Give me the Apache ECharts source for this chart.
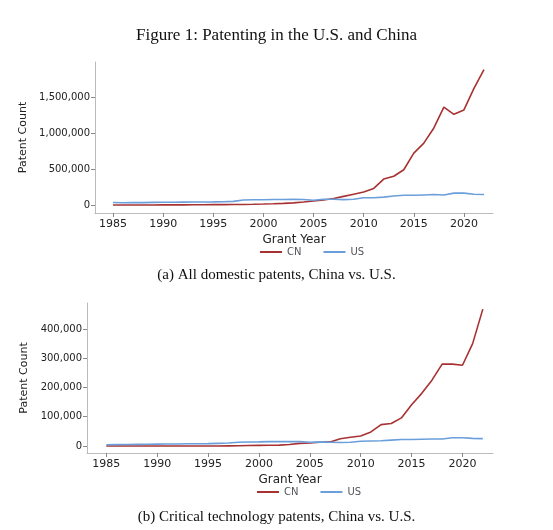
<!DOCTYPE html><html><head><meta charset="utf-8"><script src="https://cdn.jsdelivr.net/npm/echarts@6/dist/echarts.min.js"></script>
<style>body{margin:0;background:#fff}#c{width:553px;height:530px}</style></head><body><div id="c"></div><script>
const years=[];for(let y=1985;y<=2022;y++)years.push(y);
const allCN=[0,0,0,0,1000,1500,2000,2500,3000,4000,5000,6000,7000,8000,10000,13000,17000,22000,30000,42000,55000,70000,90000,120000,150000,180000,230000,360000,400000,490000,720000,860000,1070000,1360000,1260000,1320000,1620000,1880000];
const allUS=[35000,32000,33000,33000,36000,38000,39000,40000,41000,42000,43000,45000,50000,70000,72000,74000,76000,77000,78000,76000,65000,80000,80000,75000,80000,100000,100000,110000,125000,135000,135000,140000,145000,140000,165000,165000,150000,145000];
const crCN=[0,0,0,0,0,0,0,0,0,0,0,0,500,1000,1500,2000,2500,3000,5000,9000,10000,13000,14000,25000,30000,34000,48000,73000,77000,96000,141000,180000,225000,280000,280000,276000,350000,468000];
const crUS=[4000,4500,5000,5500,6000,6500,7000,7000,7500,7500,8000,9000,10000,13000,13500,14000,15000,15000,15000,15000,13000,14000,13000,12000,13000,16000,17000,18000,20000,22000,22000,23000,24000,24000,28000,28000,26000,25000];
const xTicks=[1985,1990,1995,2000,2005,2010,2015,2020];
const yTicksA=[0,500000,1000000,1500000];
const yTicksB=[0,100000,200000,300000,400000];
const CN='#a83232',US='#6a9fdc';
const pair=(a)=>years.map((y,i)=>[y,a[i]]);
const fmt=v=>v.toLocaleString('en-US');
function xa(gi,min,max){return{type:'value',gridIndex:gi,min,max,name:'Grant Year',nameLocation:'middle',nameGap:21,nameTextStyle:{fontSize:12,color:'#222',fontFamily:'DejaVu Sans'},
 axisLine:{onZero:false,lineStyle:{color:'#bbb'}},axisTick:{show:true,length:4,customValues:xTicks,lineStyle:{color:'#888'}},splitLine:{show:false},
 axisLabel:{customValues:xTicks,margin:6,fontSize:11,color:'#222',fontFamily:'DejaVu Sans',formatter:v=>String(v)}};}
function ya(gi,min,max,ticks){return{type:'value',gridIndex:gi,min,max,name:'Patent Count',nameLocation:'middle',nameGap:gi?45:53,nameTextStyle:{fontSize:11,color:'#222',fontFamily:'DejaVu Sans'},
 axisLine:{show:true,onZero:false,lineStyle:{color:'#bbb'}},axisTick:{show:true,length:4,customValues:ticks,lineStyle:{color:'#888'}},splitLine:{show:false},
 axisLabel:{customValues:ticks,margin:5,fontSize:10,color:'#222',fontFamily:'DejaVu Sans',formatter:fmt}};}
const ls=(c)=>({color:c,width:1.6});
const opt={animation:false,
 title:[{text:'Figure 1: Patenting in the U.S. and China',left:'center',top:22,textStyle:{fontFamily:'Liberation Serif',fontSize:17,fontWeight:'normal',color:'#111'}},
  {text:'(a) All domestic patents, China vs. U.S.',left:'center',top:263,textStyle:{fontFamily:'Liberation Serif',fontSize:15,fontWeight:'normal',color:'#111'}},
  {text:'(b) Critical technology patents, China vs. U.S.',left:'center',top:505,textStyle:{fontFamily:'Liberation Serif',fontSize:15,fontWeight:'normal',color:'#111'}}],
 legend:[{data:['CN','US'],top:242,left:255,itemWidth:22,itemHeight:2,icon:'rect',itemGap:22,textStyle:{fontSize:10,fontFamily:'DejaVu Sans'}},
  {data:['CN','US'],top:482,left:252,itemWidth:22,itemHeight:2,icon:'rect',itemGap:22,textStyle:{fontSize:10,fontFamily:'DejaVu Sans'}}],
 grid:[{left:95,right:60,top:62,height:151},{left:87,right:60,top:303,height:150}],
 xAxis:[xa(0,1983.2,2022.9),xa(1,1983.1,2023.0)],
 yAxis:[ya(0,-111000,1986000,yTicksA),ya(1,-24000,489000,yTicksB)],
 series:[
  {name:'CN',type:'line',xAxisIndex:0,yAxisIndex:0,data:pair(allCN),showSymbol:false,lineStyle:ls(CN),itemStyle:{color:CN}},
  {name:'US',type:'line',xAxisIndex:0,yAxisIndex:0,data:pair(allUS),showSymbol:false,lineStyle:ls(US),itemStyle:{color:US}},
  {name:'CN',type:'line',xAxisIndex:1,yAxisIndex:1,data:pair(crCN),showSymbol:false,lineStyle:ls(CN),itemStyle:{color:CN}},
  {name:'US',type:'line',xAxisIndex:1,yAxisIndex:1,data:pair(crUS),showSymbol:false,lineStyle:ls(US),itemStyle:{color:US}}]};
echarts.init(document.getElementById('c')).setOption(opt);
</script></body></html>
